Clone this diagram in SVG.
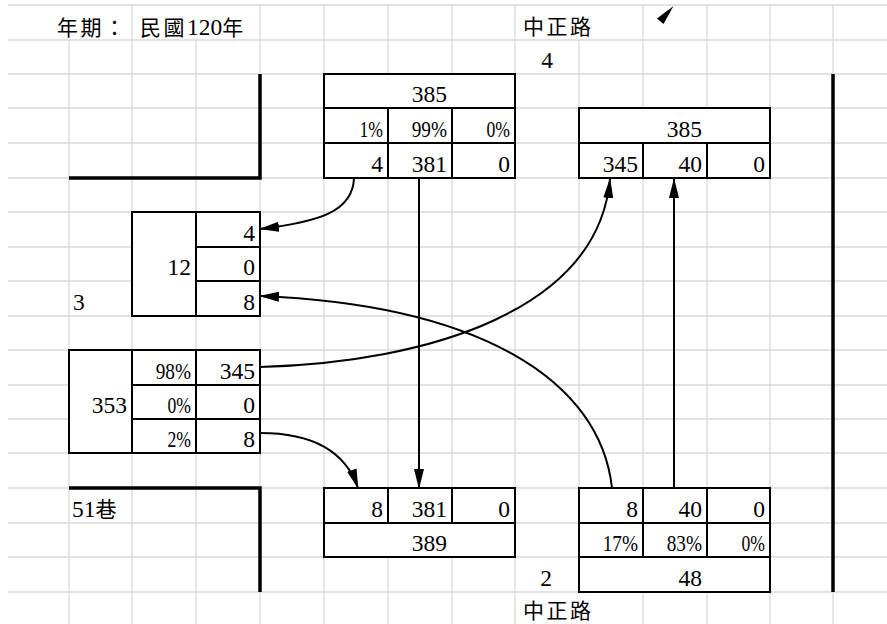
<svg xmlns="http://www.w3.org/2000/svg" width="887" height="624" viewBox="0 0 887 624">
<style>
.grid line{stroke:#d9d9d9;stroke-width:1.3}
.cell{fill:#fff;stroke:#000;stroke-width:2}
.div{stroke:#000;stroke-width:2}
.road{fill:none;stroke:#000;stroke-width:3.5}
.t{font-family:"Liberation Serif","Noto Sans CJK TC",serif;font-size:23.5px;fill:#000}
.r{text-anchor:end}
.c{text-anchor:middle}
.cj{font-family:"Noto Sans CJK TC",sans-serif;font-size:21px;letter-spacing:2.5px}
.conn{fill:none;stroke:#000;stroke-width:2;marker-end:url(#ah)}
</style>
<defs>
<marker id="ah" markerUnits="userSpaceOnUse" markerWidth="20" markerHeight="10" viewBox="0 0 20 10" refX="19" refY="5" orient="auto"><path d="M0,0 L20,5 L0,10 z" fill="#000"/></marker>
</defs>
<rect width="887" height="624" fill="#fff"/>
<g class="grid">
<line x1="8" y1="5" x2="887" y2="5"/>
<line x1="8" y1="40" x2="887" y2="40"/>
<line x1="8" y1="74" x2="887" y2="74"/>
<line x1="8" y1="108" x2="887" y2="108"/>
<line x1="8" y1="143" x2="887" y2="143"/>
<line x1="8" y1="178" x2="887" y2="178"/>
<line x1="8" y1="212" x2="887" y2="212"/>
<line x1="8" y1="247" x2="887" y2="247"/>
<line x1="8" y1="281" x2="887" y2="281"/>
<line x1="8" y1="316" x2="887" y2="316"/>
<line x1="8" y1="350" x2="887" y2="350"/>
<line x1="8" y1="385" x2="887" y2="385"/>
<line x1="8" y1="419" x2="887" y2="419"/>
<line x1="8" y1="453" x2="887" y2="453"/>
<line x1="8" y1="488" x2="887" y2="488"/>
<line x1="8" y1="523" x2="887" y2="523"/>
<line x1="8" y1="557" x2="887" y2="557"/>
<line x1="8" y1="592" x2="887" y2="592"/>
<line x1="69" y1="40" x2="69" y2="624"/>
<line x1="132" y1="5" x2="132" y2="624"/>
<line x1="196" y1="40" x2="196" y2="624"/>
<line x1="260" y1="5" x2="260" y2="624"/>
<line x1="324" y1="5" x2="324" y2="624"/>
<line x1="388" y1="5" x2="388" y2="624"/>
<line x1="452" y1="5" x2="452" y2="624"/>
<line x1="515" y1="5" x2="515" y2="624"/>
<line x1="579" y1="40" x2="579" y2="592"/>
<line x1="643" y1="5" x2="643" y2="624"/>
<line x1="707" y1="5" x2="707" y2="624"/>
<line x1="770" y1="5" x2="770" y2="624"/>
<line x1="833" y1="5" x2="833" y2="624"/>
</g>
<g id="roads">
<path class="road" d="M69,178 H260 V74"/>
<path class="road" d="M69,488 H260 V592"/>
<path class="road" d="M833,74 V592"/>
</g>
<g id="labels">
<text class="t cj" x="57" y="35">年期：</text>
<text class="t" x="140" y="35"><tspan class="cj">民國</tspan>120<tspan class="cj">年</tspan></text>
<text class="t cj" x="523" y="34">中正路</text>
<text class="t c" x="547" y="67.5">4</text>
<text class="t" x="73" y="309.5">3</text>
<text class="t" x="72" y="516.5">51<tspan class="cj">巷</tspan></text>
<text class="t c" x="546" y="585.5">2</text>
<text class="t cj" x="523" y="618">中正路</text>
</g>
<g id="north-approach">
<rect class="cell" x="324" y="74" width="191" height="104"/>
<line class="div" x1="324" y1="108" x2="515" y2="108"/>
<line class="div" x1="324" y1="143" x2="515" y2="143"/>
<line class="div" x1="388" y1="108" x2="388" y2="178"/>
<line class="div" x1="452" y1="108" x2="452" y2="178"/>
<text class="t r" x="447" y="102">385</text>
<text class="t r" x="383" y="137" textLength="23.5" lengthAdjust="spacingAndGlyphs">1%</text>
<text class="t r" x="447" y="137" textLength="35.3" lengthAdjust="spacingAndGlyphs">99%</text>
<text class="t r" x="510" y="137" textLength="23.5" lengthAdjust="spacingAndGlyphs">0%</text>
<text class="t r" x="383" y="171.5">4</text>
<text class="t r" x="447" y="171.5">381</text>
<text class="t r" x="510" y="171.5">0</text>
</g>
<g id="north-exit">
<rect class="cell" x="579" y="108" width="191" height="70"/>
<line class="div" x1="579" y1="143" x2="770" y2="143"/>
<line class="div" x1="643" y1="143" x2="643" y2="178"/>
<line class="div" x1="707" y1="143" x2="707" y2="178"/>
<text class="t r" x="702" y="137">385</text>
<text class="t r" x="638" y="171.5">345</text>
<text class="t r" x="702" y="171.5">40</text>
<text class="t r" x="765" y="171.5">0</text>
</g>
<g id="west-exit">
<rect class="cell" x="132" y="212" width="128" height="104"/>
<line class="div" x1="196" y1="212" x2="196" y2="316"/>
<line class="div" x1="196" y1="247" x2="260" y2="247"/>
<line class="div" x1="196" y1="281" x2="260" y2="281"/>
<text class="t r" x="255" y="240.5">4</text>
<text class="t r" x="191" y="274.5">12</text>
<text class="t r" x="255" y="274.5">0</text>
<text class="t r" x="255" y="309.5">8</text>
</g>
<g id="west-approach">
<rect class="cell" x="69" y="350" width="191" height="103"/>
<line class="div" x1="132" y1="350" x2="132" y2="453"/>
<line class="div" x1="196" y1="350" x2="196" y2="453"/>
<line class="div" x1="132" y1="385" x2="260" y2="385"/>
<line class="div" x1="132" y1="419" x2="260" y2="419"/>
<text class="t r" x="191" y="378.5" textLength="35.3" lengthAdjust="spacingAndGlyphs">98%</text>
<text class="t r" x="255" y="378.5">345</text>
<text class="t r" x="127" y="412.5">353</text>
<text class="t r" x="191" y="412.5" textLength="23.5" lengthAdjust="spacingAndGlyphs">0%</text>
<text class="t r" x="255" y="412.5">0</text>
<text class="t r" x="191" y="446.5" textLength="23.5" lengthAdjust="spacingAndGlyphs">2%</text>
<text class="t r" x="255" y="446.5">8</text>
</g>
<g id="south-exit">
<rect class="cell" x="324" y="488" width="191" height="69"/>
<line class="div" x1="324" y1="523" x2="515" y2="523"/>
<line class="div" x1="388" y1="488" x2="388" y2="523"/>
<line class="div" x1="452" y1="488" x2="452" y2="523"/>
<text class="t r" x="383" y="516.5">8</text>
<text class="t r" x="447" y="516.5">381</text>
<text class="t r" x="510" y="516.5">0</text>
<text class="t r" x="447" y="550.5">389</text>
</g>
<g id="south-approach">
<rect class="cell" x="579" y="488" width="191" height="104"/>
<line class="div" x1="579" y1="523" x2="770" y2="523"/>
<line class="div" x1="579" y1="557" x2="770" y2="557"/>
<line class="div" x1="643" y1="488" x2="643" y2="557"/>
<line class="div" x1="707" y1="488" x2="707" y2="557"/>
<text class="t r" x="638" y="516.5">8</text>
<text class="t r" x="702" y="516.5">40</text>
<text class="t r" x="765" y="516.5">0</text>
<text class="t r" x="638" y="550.5" textLength="35.3" lengthAdjust="spacingAndGlyphs">17%</text>
<text class="t r" x="702" y="550.5" textLength="35.3" lengthAdjust="spacingAndGlyphs">83%</text>
<text class="t r" x="765" y="550.5" textLength="23.5" lengthAdjust="spacingAndGlyphs">0%</text>
<text class="t r" x="702" y="585.5">48</text>
</g>
<g id="connectors">
<path class="conn" d="M354,178 C353,212 318,222 260,229"/>
<path class="conn" d="M419,178 V488"/>
<path class="conn" d="M260,367 C430,362 598,310 610,179"/>
<path class="conn" d="M674,488 V179"/>
<path class="conn" d="M612,488 C600,380 480,305 260,296"/>
<path class="conn" d="M260,433 C310,433 345,450 358,488"/>
<polygon points="673.5,6 657,18.5 663.5,24" fill="#000"/>
</g>
</svg>
